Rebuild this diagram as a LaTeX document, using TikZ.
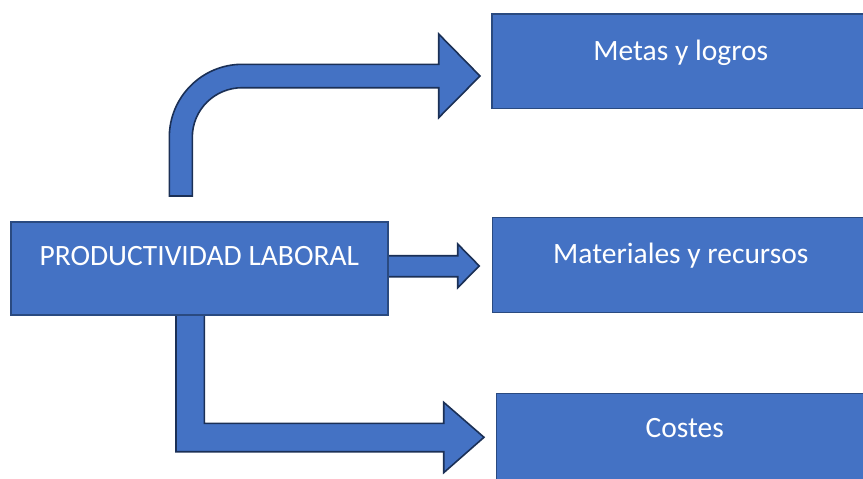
\documentclass[tikz,border=0pt]{standalone}
\usepackage{fontspec}
\setmainfont{Carlito}
\definecolor{boxfill}{HTML}{4472C4}
\definecolor{boxline}{HTML}{2A4A80}
\definecolor{arrowline}{HTML}{1B3056}
\begin{document}
\begin{tikzpicture}[x=1pt,y=-1pt,
  blockbox/.style={draw=boxline,fill=boxfill,line width=1.6pt,inner sep=0pt,
    text=white,font=\fontsize{29.5}{35}\selectfont,anchor=north west,rectangle},
  blockarrow/.style={draw=arrowline,fill=boxfill,line width=1.6pt,line join=miter}]
\useasboundingbox (0,0) rectangle (863,479);
\clip (0,0) rectangle (863,479);
% arrows (behind boxes)
\draw[blockarrow] (169.3,196) -- (169.3,137.3)
  .. controls (169.3,97) and (202,64.3) .. (242.3,64.3)
  -- (438.7,64.3) -- (438.7,34) -- (480,76) -- (438.7,117.7) -- (438.7,87.7)
  -- (242.3,87.7) .. controls (214.7,87.7) and (192.3,109.7) .. (192.3,137.3)
  -- (192.3,196) -- cycle;
\draw[blockarrow] (386,255.7) -- (457.7,255.7) -- (457.7,244) -- (479.3,266)
  -- (457.7,287.7) -- (457.7,276.7) -- (386,276.7) -- cycle;
\draw[blockarrow] (176,315) -- (204.3,315) -- (204.3,423.3) -- (443.7,423.3)
  -- (443.7,402.3) -- (484,437.3) -- (443.7,472.7) -- (443.7,451.7)
  -- (176,451.7) -- cycle;
% boxes
\node[blockbox,minimum width=377pt,text height=44pt,text depth=49pt] (main) at (10,221) {PRODUCTIVIDAD LABORAL};
\node[blockbox,minimum width=378pt,text height=46.7pt,text depth=47.7pt] (metas) at (491,13.3) {Metas y logros};
\node[blockbox,minimum width=376.6pt,text height=46pt,text depth=49pt] (mat) at (491.7,216.7) {Materiales y recursos};
\node[blockbox,minimum width=376.6pt,text height=44.3pt,text depth=70pt] (costes) at (495.7,392.7) {Costes};
\end{tikzpicture}
\end{document}
